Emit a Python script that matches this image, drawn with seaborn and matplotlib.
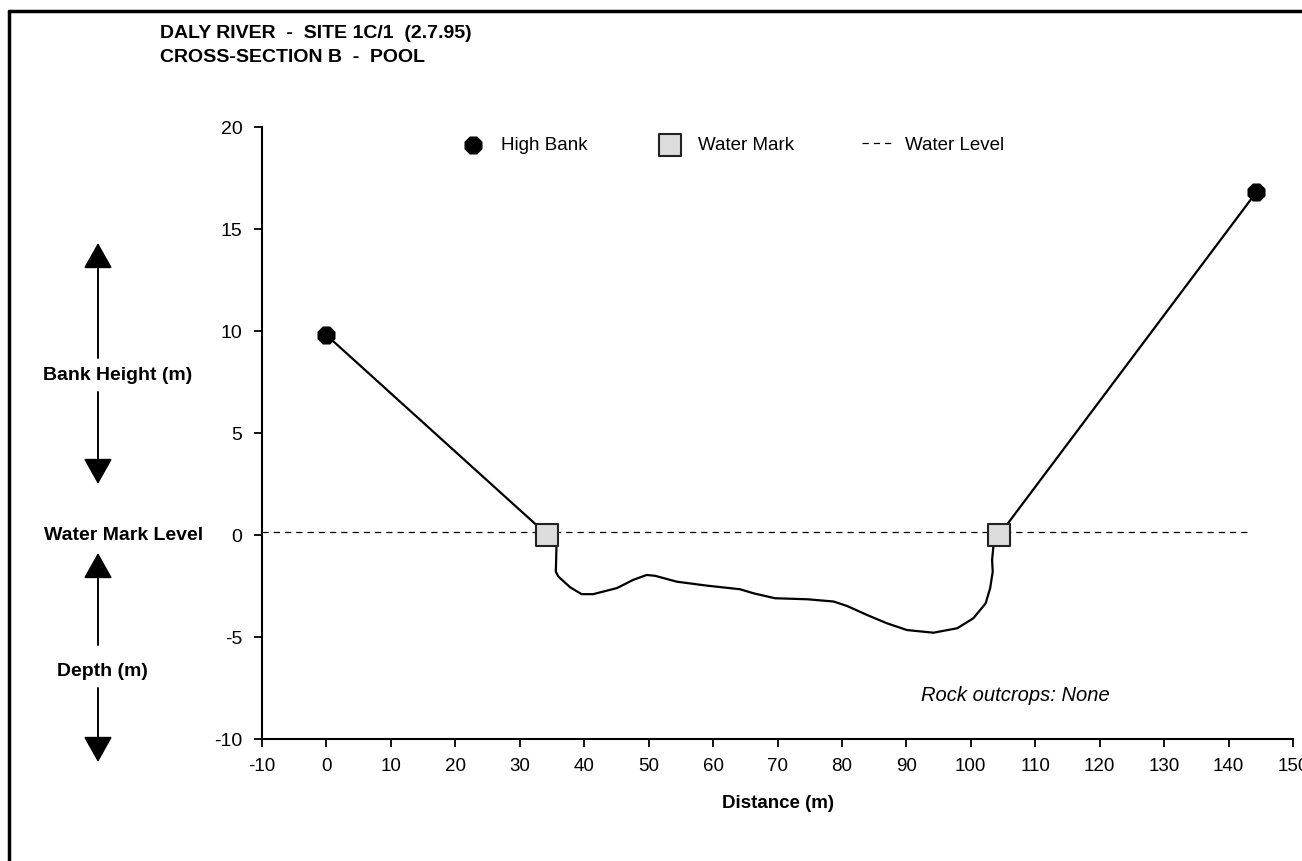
import matplotlib
matplotlib.use("Agg")
import matplotlib.pyplot as plt
import seaborn as sns
import pandas as pd
from matplotlib.lines import Line2D
from matplotlib.patches import FancyArrowPatch

# chart data
bank_x = [0, 144.3]
bank_y = [9.8, 16.8]
mark_x = [34.3, 104.4]
mark_y = [0, 0]
profile_x = [0, 34.3, 35.7, 35.6, 36.0, 37.8, 39.6, 41.4, 45.1, 47.6, 49.7, 51.0,
             54.4, 59.0, 64.2, 66.3, 69.6, 74.6, 78.7, 80.8, 83.9, 87.0, 90.1,
             94.2, 97.9, 100.4, 102.3, 103.0, 103.4, 103.3, 103.5, 104.4, 144.3]
profile_y = [9.8, 0, -0.57, -1.8, -2.04, -2.56, -2.9, -2.9, -2.6, -2.2, -1.96, -2.0,
             -2.29, -2.48, -2.66, -2.86, -3.1, -3.15, -3.26, -3.48, -3.92, -4.33, -4.66,
             -4.79, -4.57, -4.08, -3.35, -2.61, -1.8, -1.23, -0.57, 0, 16.8]
level_x = [-10, 143.4]
level_y = [0.15, 0.15]
x_ticks = list(range(-10, 151, 10))
y_ticks = list(range(-10, 21, 5))

sns.set_style("ticks")
plt.rcParams['font.family'] = ['Liberation Sans', 'DejaVu Sans']
plt.rcParams['axes.unicode_minus'] = False
plt.rcParams['text.color'] = 'black'
plt.rcParams['axes.labelcolor'] = 'black'
plt.rcParams['xtick.color'] = 'black'
plt.rcParams['ytick.color'] = 'black'

W, H = 1302, 861
fig = plt.figure(figsize=(W / 100, H / 100), dpi=100)
ax = fig.add_axes([262 / W, 1 - 739 / H, (1293 - 262) / W, (739 - 127) / H])

profile = pd.DataFrame({"x": profile_x, "y": profile_y})
sns.lineplot(data=profile, x="x", y="y", sort=False, color="black", linewidth=1.6,
             ax=ax, legend=False, zorder=2)
sns.scatterplot(x=bank_x, y=bank_y, marker="8", s=180, color="black",
                edgecolor="black", linewidth=0.5, label="High Bank", ax=ax, zorder=4)
sns.scatterplot(x=mark_x, y=mark_y, marker="s", s=230, color="#dcdcdc",
                edgecolor="#222222", linewidth=1.5, label="Water Mark", ax=ax, zorder=4)
ax.plot(level_x, level_y, color="black", linestyle=(0, (5, 4)), linewidth=0.9,
        label="Water Level", zorder=1)

ax.set_xlim(-10, 150)
ax.set_ylim(-10, 20)
ax.set_xticks(x_ticks)
ax.set_yticks(y_ticks)
ax.tick_params(axis="both", direction="out", length=6, width=1.3, color="black",
               labelcolor="black")
ax.tick_params(axis="x", pad=8, labelsize=13.5)
ax.tick_params(axis="y", pad=8, labelsize=14)
for s in ["top", "right"]:
    ax.spines[s].set_visible(False)
for s in ["left", "bottom"]:
    ax.spines[s].set_linewidth(1.5)
    ax.spines[s].set_color("black")
ax.set_xlabel("Distance (m)", fontsize=13.5, fontweight="bold", labelpad=14)
ax.set_ylabel("")

ax.legend(loc="center", bbox_to_anchor=(0.455, 0.97), ncol=3, frameon=False,
          fontsize=13.5, columnspacing=3.6, handletextpad=0.7, handlelength=1.6)

ax.text(106.9, -7.85, "Rock outcrops: None", fontsize=14.5, fontstyle="italic",
        ha="center", va="center")

# titles
fig.text(160 / W, 1 - 33 / H, "DALY RIVER  -  SITE 1C/1  (2.7.95)", fontsize=14,
         fontweight="bold", ha="left", va="center")
fig.text(160 / W, 1 - 58 / H, "CROSS-SECTION B  -  POOL", fontsize=14,
         fontweight="bold", ha="left", va="center")

# left side labels and arrows
def fy(py):
    return 1 - py / H

ax_x = 98 / W
fig.text(118 / W, fy(375), "Bank Height (m)", fontsize=14, fontweight="bold",
         ha="center", va="center")
fig.text(124 / W, fy(535), "Water Mark Level", fontsize=14, fontweight="bold",
         ha="center", va="center")
fig.text(102 / W, fy(672), "Depth (m)", fontsize=14, fontweight="bold",
         ha="center", va="center")
arrow = dict(arrowstyle="-|>,head_length=0.8,head_width=0.45", lw=1.4,
             color="black", mutation_scale=20, shrinkA=0, shrinkB=0)
for y0, y1 in [(358, 243), (392, 484), (645, 553), (688, 762)]:
    fig.add_artist(FancyArrowPatch((ax_x, fy(y0)), (ax_x, fy(y1)),
                                   transform=fig.transFigure, **arrow))

# figure border (left and top edges visible)
fig.add_artist(Line2D([8.5 / W, 8.5 / W], [0, fy(11)], transform=fig.transFigure,
                      color="black", linewidth=2.5))
fig.add_artist(Line2D([8.5 / W, 1], [fy(11), fy(11)], transform=fig.transFigure,
                      color="black", linewidth=2.5))

fig.savefig("out.png", dpi=100)
